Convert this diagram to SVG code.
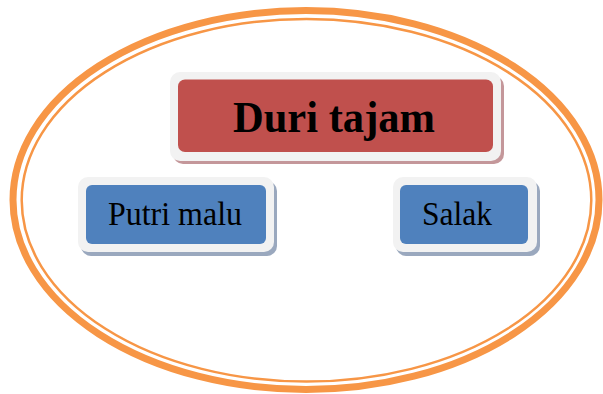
<svg xmlns="http://www.w3.org/2000/svg" width="603" height="394" viewBox="0 0 603 394">
<style>
.frame{fill:#F2F2F2}
.red{fill:#C0504D}
.blue{fill:#4F81BD}
.shr{fill:#C4979A}
.shb{fill:#9AA8BE}
.lbl{font-family:"Liberation Serif","Times New Roman",serif;fill:#000}
</style>
<rect width="603" height="394" fill="#fff"/>
<g id="boundary" fill="none" stroke="#F79646">
<ellipse cx="306" cy="200" rx="293" ry="189.5" stroke-width="7"/>
<ellipse cx="306.5" cy="200.3" rx="284.8" ry="181.3" stroke-width="2.5"/>
</g>
<g id="connectors"></g>
<g id="node-duri">
<rect class="shr" x="173" y="76" width="331" height="88" rx="10"/>
<rect class="frame" x="170" y="72" width="331" height="89" rx="10"/>
<rect class="red" x="178" y="79.5" width="315" height="72.5" rx="7"/>
<text class="lbl" x="233" y="132" font-size="44" font-weight="bold" textLength="202" lengthAdjust="spacingAndGlyphs">Duri tajam</text>
</g>
<g id="node-putri">
<rect class="shb" x="81" y="181" width="196" height="75" rx="10"/>
<rect class="frame" x="78" y="177" width="196" height="75" rx="10"/>
<rect class="blue" x="86" y="185" width="180" height="59" rx="6"/>
<text class="lbl" x="108" y="225" font-size="34" textLength="134" lengthAdjust="spacingAndGlyphs">Putri malu</text>
</g>
<g id="node-salak">
<rect class="shb" x="396" y="181" width="144" height="75" rx="10"/>
<rect class="frame" x="393" y="177" width="144" height="75" rx="10"/>
<rect class="blue" x="400" y="185" width="128" height="59" rx="6"/>
<text class="lbl" x="422" y="225" font-size="34" textLength="70" lengthAdjust="spacingAndGlyphs">Salak</text>
</g>
</svg>
